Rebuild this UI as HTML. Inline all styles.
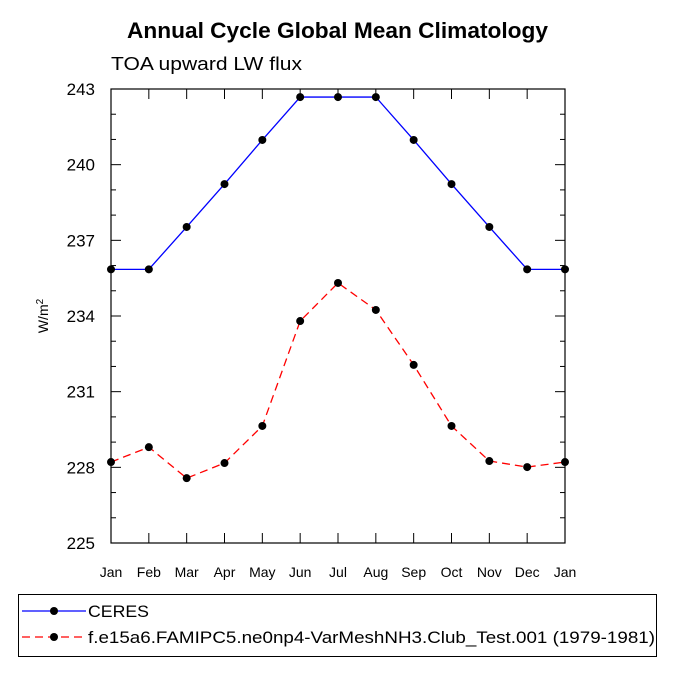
<!DOCTYPE html>
<html><head><meta charset="utf-8"><style>
body{margin:0;background:#fff}
svg{display:block;font-family:"Liberation Sans",Helvetica,Arial,sans-serif}
</style></head><body>
<svg width="675" height="675" viewBox="0 0 675 675">
<text x="127" y="38" font-size="22" font-weight="bold" textLength="421" lengthAdjust="spacingAndGlyphs">Annual Cycle Global Mean Climatology</text>
<text x="111" y="70" font-size="18.5" textLength="191" lengthAdjust="spacingAndGlyphs">TOA upward LW flux</text>
<g id="axes"></g>
<g id="series"></g>
<g>
<rect x="18.5" y="594.5" width="638" height="62" fill="none" stroke="#000"/>
<g>
<line x1="22" y1="611" x2="86" y2="611" stroke="#0000ff" stroke-width="1.3"/>
<circle cx="54" cy="611" r="4" fill="#000"/>
<text x="88" y="617" font-size="17" textLength="61" lengthAdjust="spacingAndGlyphs">CERES</text>
</g>
<g>
<line x1="22" y1="637" x2="86" y2="637" stroke="#ff0000" stroke-width="1.3" stroke-dasharray="8,5"/>
<circle cx="54" cy="637" r="4" fill="#000"/>
<text x="88" y="643" font-size="17" textLength="567" lengthAdjust="spacingAndGlyphs">f.e15a6.FAMIPC5.ne0np4-VarMeshNH3.Club_Test.001 (1979-1981)</text>
</g>
</g>
</svg>
<script>
const months=["Jan","Feb","Mar","Apr","May","Jun","Jul","Aug","Sep","Oct","Nov","Dec","Jan"];
const ceres=[235.85,235.85,237.53,239.23,240.98,242.68,242.68,242.68,240.98,239.23,237.53,235.85,235.85];
const model=[228.21,228.8,227.57,228.17,229.64,233.8,235.31,234.24,232.06,229.64,228.25,228.01,228.21];
const yTicks=[225,228,231,234,237,240,243];
const NS="http://www.w3.org/2000/svg";
const X0=111,X1=565,Y0=89,Y1=543,YMIN=225,YMAX=243;
function xs(i){return X0+(X1-X0)*i/(months.length-1);}
function ys(v){return Y1-(v-YMIN)/(YMAX-YMIN)*(Y1-Y0);}
function mk(tag,attrs,parent){const e=document.createElementNS(NS,tag);for(const k in attrs)e.setAttribute(k,attrs[k]);parent.appendChild(e);return e;}
const ax=document.getElementById('axes');
const frame=mk('rect',{x:X0,y:Y0,width:X1-X0,height:Y1-Y0,fill:'none',stroke:'#000','stroke-width':1.2},ax);


for(let v=YMIN;v<=YMAX;v+=1){
  const y=ys(v);const major=yTicks.includes(v);const L=major?10:5;
  mk('line',{x1:X0,y1:y,x2:X0+L,y2:y,stroke:'#000'},ax);
  mk('line',{x1:X1,y1:y,x2:X1-L,y2:y,stroke:'#000'},ax);
}
yTicks.forEach(v=>{
  const t=mk('text',{x:X0-16,y:ys(v)+6,'text-anchor':'end','font-size':17},ax);
  t.textContent=v;
  
  
});
months.forEach((m,i)=>{
  const x=xs(i);
  mk('line',{x1:x,y1:Y1,x2:x,y2:Y1-10,stroke:'#000'},ax);
  mk('line',{x1:x,y1:Y0,x2:x,y2:Y0+10,stroke:'#000'},ax);
  const t=mk('text',{x:x,y:Y1+34,'text-anchor':'middle','font-size':14},ax);
  t.textContent=m;
  
  
});
const yt=mk('text',{transform:'translate(48,316) rotate(-90)','text-anchor':'middle','font-size':14},ax);
yt.innerHTML='W/m<tspan dy="-5" font-size="10">2</tspan>';


const sg=document.getElementById('series');
function draw(vals,color,dash,name){
  const g=mk('g',{},sg);
  
  
  const pts=vals.map((v,i)=>xs(i)+','+ys(v)).join(' ');
  const a={points:pts,fill:'none',stroke:color,'stroke-width':1.3};
  if(dash)a['stroke-dasharray']=dash;
  mk('polyline',a,g);
  vals.forEach((v,i)=>{
    const c=mk('circle',{cx:xs(i),cy:ys(v),r:4,fill:'#000'},g);
    
    
  });
}
draw(ceres,'#0000ff',null,'series-ceres');
draw(model,'#ff0000','8,5','series-model');
</script>
</body></html>
